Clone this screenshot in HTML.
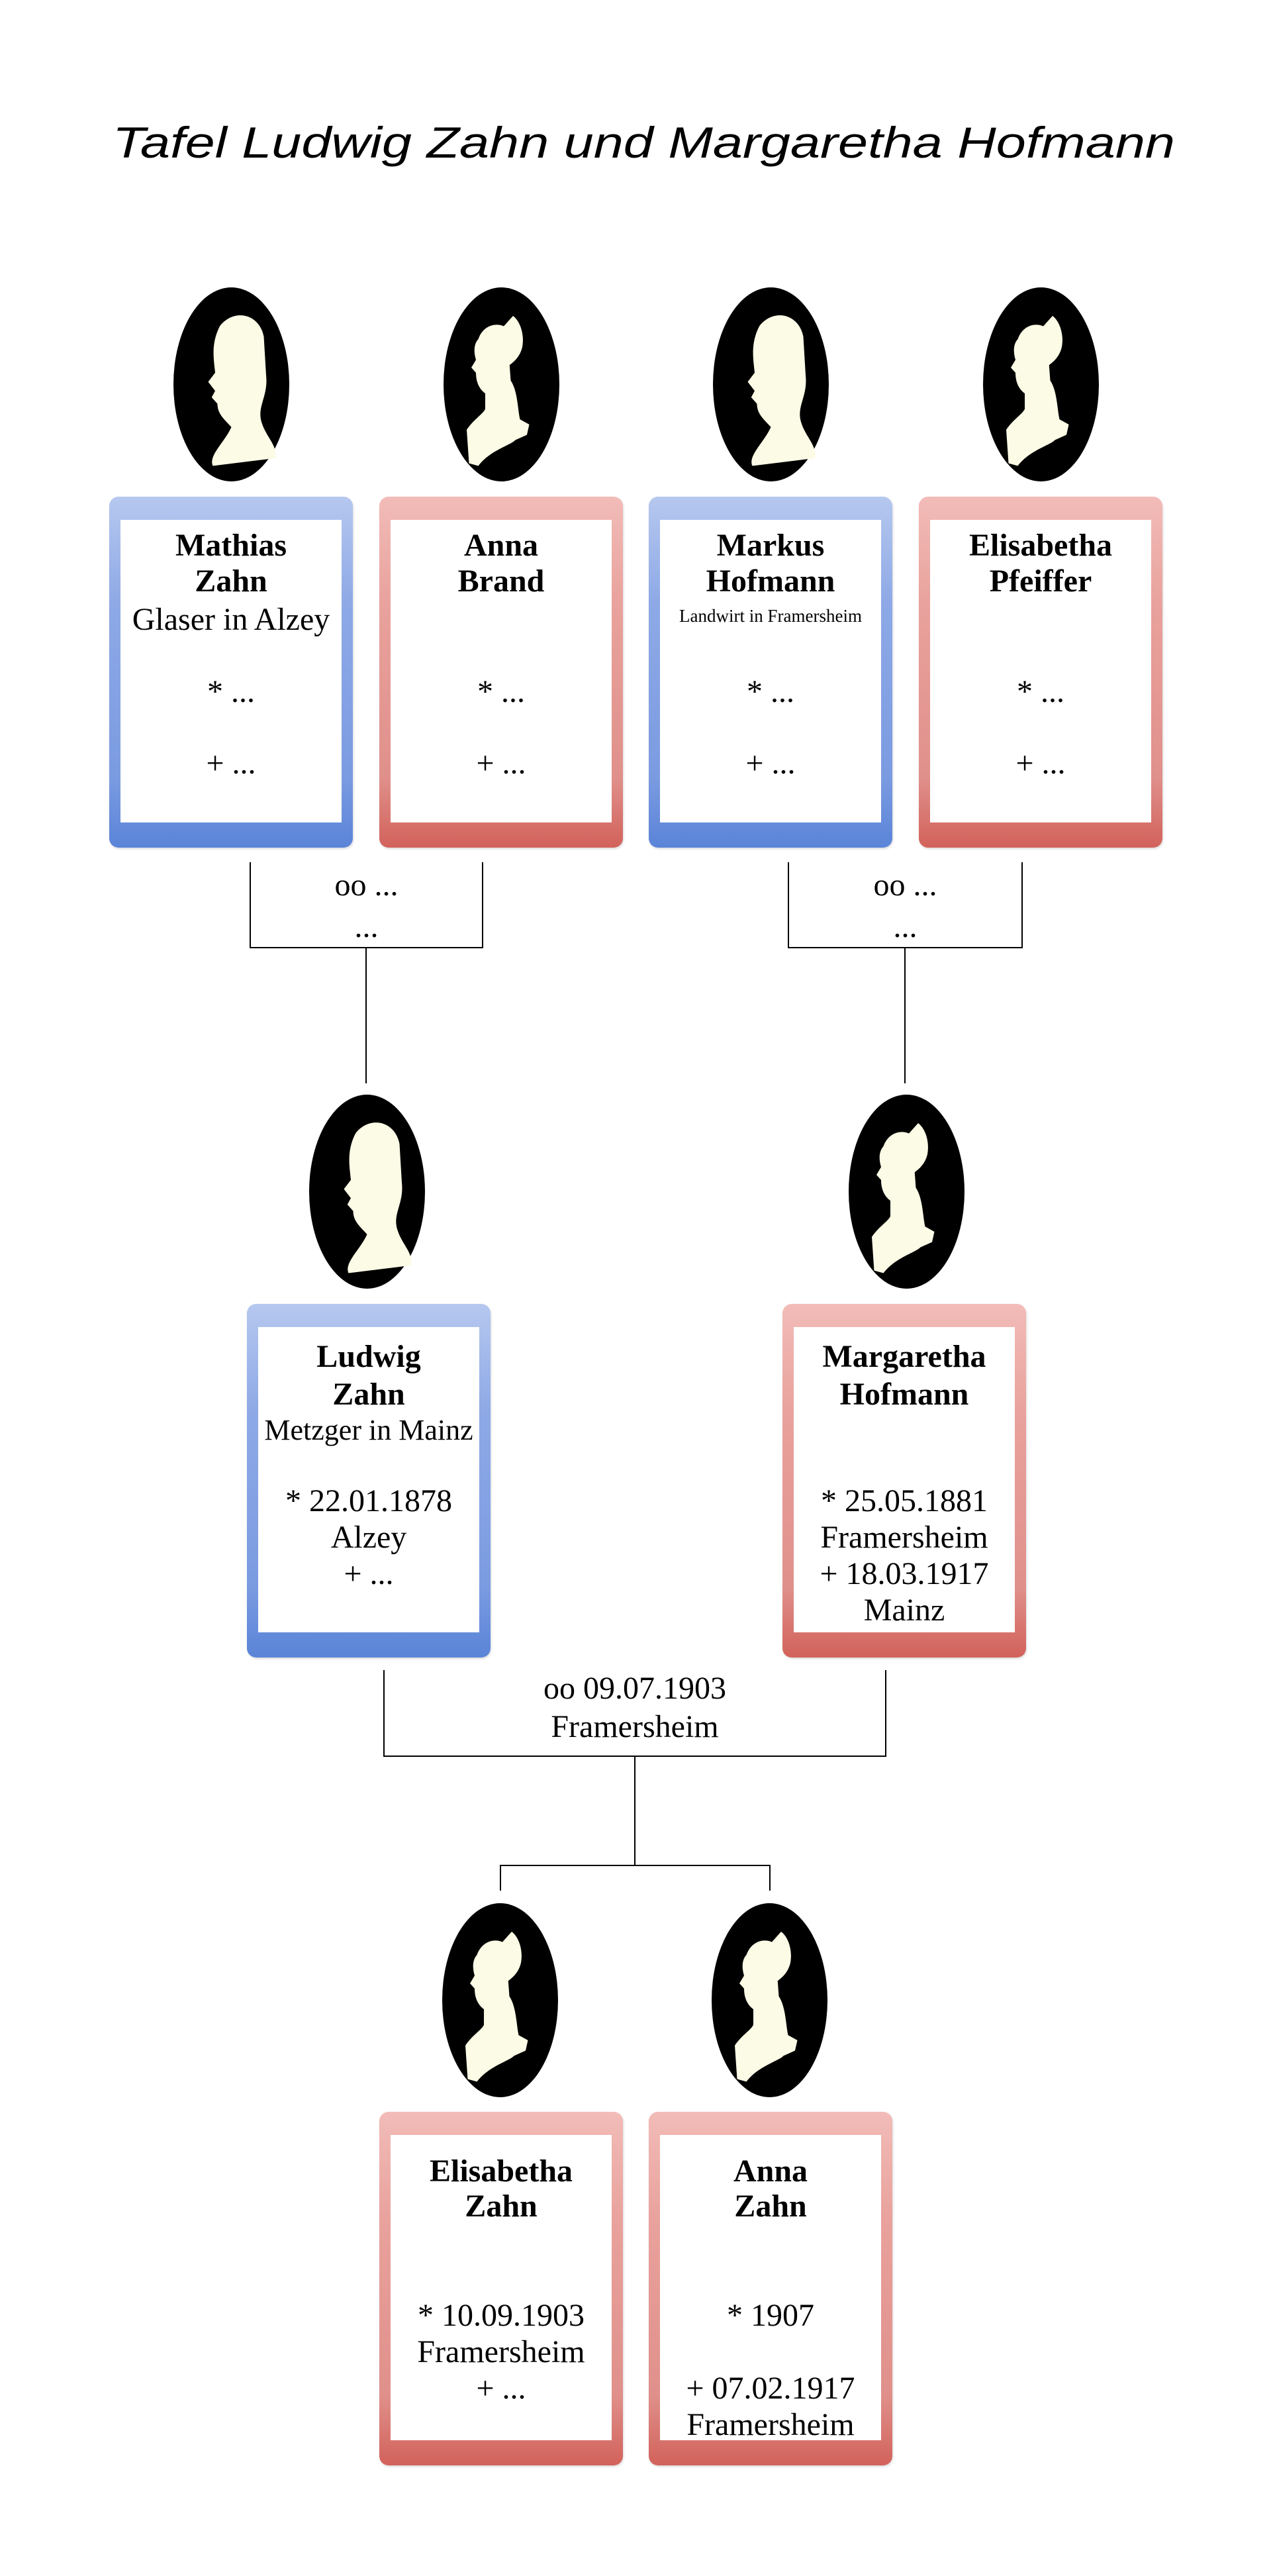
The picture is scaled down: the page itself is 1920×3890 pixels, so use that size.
<!DOCTYPE html>
<html><head><meta charset="utf-8">
<style>
body{margin:0;width:1920px;height:3890px;background:#fff;position:relative;overflow:hidden;font-family:"Liberation Serif",serif;color:#000}
.box{position:absolute;border-radius:14px}
.blue{background:linear-gradient(to bottom,#b6c8ef 0%,#8ea9e6 30%,#7b9be1 80%,#5a84d8 100%);box-shadow:1px 2px 3px rgba(0,0,0,.15)}
.red{background:linear-gradient(to bottom,#f2bcb8 0%,#e9a29d 30%,#e0908b 80%,#d2625b 100%);box-shadow:1px 2px 3px rgba(0,0,0,.15)}
.box .in{position:absolute;left:17px;right:17px;top:35px;bottom:38px;background:#fff}
.t{position:absolute;text-align:center;font-size:48px;line-height:56px;white-space:nowrap}
.b{font-weight:bold}
.l{position:absolute;background:#000}
.ov{position:absolute}
</style></head><body>

<svg style="position:absolute;left:0;top:0" width="1920" height="300">
<text x="170" y="238" textLength="1605" lengthAdjust="spacingAndGlyphs" font-family="'Liberation Sans',sans-serif" font-style="italic" font-size="66">Tafel Ludwig Zahn und Margaretha Hofmann</text>
</svg>

<svg width="0" height="0" style="position:absolute">
<defs>
<g id="man"><ellipse cx="50" cy="75" rx="50" ry="75" fill="#000"/><path d="M40 30 C52 16 74 20 78 38 L80 68 C82 84 72 92 76 104 C80 116 90 122 88 132 L34 138 C30 130 44 120 50 108 C44 102 38 98 38 90 L33 85 L36 80 L30 73 L36 66 C35 56 32 44 40 30Z" fill="#fbfbe6"/></g>
<g id="wom"><ellipse cx="50" cy="75" rx="50" ry="75" fill="#000"/><path d="M30 40 C34 30 44 27 52 30 L60 22 C66 26 70 36 68 46 C66 54 60 58 57 60 L58 72 C64 80 64 94 66 102 L74 106 L72 114 L62 118 C58 122 40 126 30 138 L22 136 L20 110 C26 102 34 98 36 94 L36 82 C30 78 28 72 28 66 L24 62 L28 56 C26 50 26 44 30 40Z" fill="#fbfbe6"/></g>
</defs></svg>

<svg class="ov" style="left:262px;top:434px" width="175" height="293" viewBox="0 0 100 150" preserveAspectRatio="none"><use href="#man"/></svg>
<svg class="ov" style="left:670px;top:434px" width="175" height="293" viewBox="0 0 100 150" preserveAspectRatio="none"><use href="#wom"/></svg>
<svg class="ov" style="left:1077px;top:434px" width="175" height="293" viewBox="0 0 100 150" preserveAspectRatio="none"><use href="#man"/></svg>
<svg class="ov" style="left:1485px;top:434px" width="175" height="293" viewBox="0 0 100 150" preserveAspectRatio="none"><use href="#wom"/></svg>
<svg class="ov" style="left:467px;top:1653px" width="175" height="293" viewBox="0 0 100 150" preserveAspectRatio="none"><use href="#man"/></svg>
<svg class="ov" style="left:1282px;top:1653px" width="175" height="293" viewBox="0 0 100 150" preserveAspectRatio="none"><use href="#wom"/></svg>
<svg class="ov" style="left:668px;top:2874px" width="175" height="293" viewBox="0 0 100 150" preserveAspectRatio="none"><use href="#wom"/></svg>
<svg class="ov" style="left:1075px;top:2874px" width="175" height="293" viewBox="0 0 100 150" preserveAspectRatio="none"><use href="#wom"/></svg>

<div class="box blue" style="left:165px;top:750px;width:368px;height:530px"><div class="in"></div></div>
<div class="box red" style="left:573px;top:750px;width:368px;height:530px"><div class="in"></div></div>
<div class="box blue" style="left:980px;top:750px;width:368px;height:530px"><div class="in"></div></div>
<div class="box red" style="left:1388px;top:750px;width:368px;height:530px"><div class="in"></div></div>
<div class="box blue" style="left:373px;top:1969px;width:368px;height:534px"><div class="in"></div></div>
<div class="box red" style="left:1182px;top:1969px;width:368px;height:534px"><div class="in"></div></div>
<div class="box red" style="left:573px;top:3189px;width:368px;height:534px"><div class="in"></div></div>
<div class="box red" style="left:980px;top:3189px;width:368px;height:534px"><div class="in"></div></div>

<div class="t b" style="left:165px;width:368px;top:796px">Mathias</div>
<div class="t b" style="left:165px;width:368px;top:850px">Zahn</div>
<div class="t" style="left:165px;width:368px;top:908px">Glaser in Alzey</div>
<div class="t" style="left:165px;width:368px;top:1017px">* ...</div>
<div class="t" style="left:165px;width:368px;top:1125px">+ ...</div>

<div class="t b" style="left:573px;width:368px;top:796px">Anna</div>
<div class="t b" style="left:573px;width:368px;top:850px">Brand</div>
<div class="t" style="left:573px;width:368px;top:1017px">* ...</div>
<div class="t" style="left:573px;width:368px;top:1125px">+ ...</div>

<div class="t b" style="left:980px;width:368px;top:796px">Markus</div>
<div class="t b" style="left:980px;width:368px;top:850px">Hofmann</div>
<div class="t" style="left:980px;width:368px;top:914px;font-size:27px;line-height:32px">Landwirt in Framersheim</div>
<div class="t" style="left:980px;width:368px;top:1017px">* ...</div>
<div class="t" style="left:980px;width:368px;top:1125px">+ ...</div>

<div class="t b" style="left:1388px;width:368px;top:796px">Elisabetha</div>
<div class="t b" style="left:1388px;width:368px;top:850px">Pfeiffer</div>
<div class="t" style="left:1388px;width:368px;top:1017px">* ...</div>
<div class="t" style="left:1388px;width:368px;top:1125px">+ ...</div>

<div class="t b" style="left:373px;width:368px;top:2021px">Ludwig</div>
<div class="t b" style="left:373px;width:368px;top:2078px">Zahn</div>
<div class="t" style="left:373px;width:368px;top:2132px;font-size:44px">Metzger in Mainz</div>
<div class="t" style="left:373px;width:368px;top:2239px">* 22.01.1878</div>
<div class="t" style="left:373px;width:368px;top:2294px">Alzey</div>
<div class="t" style="left:373px;width:368px;top:2349px">+ ...</div>

<div class="t b" style="left:1182px;width:368px;top:2021px">Margaretha</div>
<div class="t b" style="left:1182px;width:368px;top:2078px">Hofmann</div>
<div class="t" style="left:1182px;width:368px;top:2239px">* 25.05.1881</div>
<div class="t" style="left:1182px;width:368px;top:2294px">Framersheim</div>
<div class="t" style="left:1182px;width:368px;top:2349px">+ 18.03.1917</div>
<div class="t" style="left:1182px;width:368px;top:2404px">Mainz</div>

<div class="t b" style="left:573px;width:368px;top:3251px">Elisabetha</div>
<div class="t b" style="left:573px;width:368px;top:3304px">Zahn</div>
<div class="t" style="left:573px;width:368px;top:3469px">* 10.09.1903</div>
<div class="t" style="left:573px;width:368px;top:3524px">Framersheim</div>
<div class="t" style="left:573px;width:368px;top:3579px">+ ...</div>

<div class="t b" style="left:980px;width:368px;top:3251px">Anna</div>
<div class="t b" style="left:980px;width:368px;top:3304px">Zahn</div>
<div class="t" style="left:980px;width:368px;top:3469px">* 1907</div>
<div class="t" style="left:980px;width:368px;top:3579px">+ 07.02.1917</div>
<div class="t" style="left:980px;width:368px;top:3634px">Framersheim</div>

<div class="l" style="left:377px;top:1302px;width:2px;height:130px"></div>
<div class="l" style="left:728px;top:1302px;width:2px;height:130px"></div>
<div class="l" style="left:377px;top:1430px;width:353px;height:2px"></div>
<div class="l" style="left:552px;top:1431px;width:2px;height:205px"></div>
<div class="t" style="left:377px;width:353px;top:1309px">oo ...</div>
<div class="t" style="left:377px;width:353px;top:1372px">...</div>

<div class="l" style="left:1190px;top:1302px;width:2px;height:130px"></div>
<div class="l" style="left:1543px;top:1302px;width:2px;height:130px"></div>
<div class="l" style="left:1190px;top:1430px;width:355px;height:2px"></div>
<div class="l" style="left:1366px;top:1431px;width:2px;height:205px"></div>
<div class="t" style="left:1190px;width:355px;top:1309px">oo ...</div>
<div class="t" style="left:1190px;width:355px;top:1372px">...</div>

<div class="l" style="left:579px;top:2522px;width:2px;height:131px"></div>
<div class="l" style="left:1337px;top:2522px;width:2px;height:131px"></div>
<div class="l" style="left:579px;top:2651px;width:760px;height:2px"></div>
<div class="l" style="left:958px;top:2652px;width:2px;height:166px"></div>
<div class="l" style="left:755px;top:2816px;width:409px;height:2px"></div>
<div class="l" style="left:755px;top:2816px;width:2px;height:39px"></div>
<div class="l" style="left:1162px;top:2816px;width:2px;height:39px"></div>
<div class="t" style="left:759px;width:400px;top:2522px">oo 09.07.1903</div>
<div class="t" style="left:759px;width:400px;top:2580px">Framersheim</div>

</body></html>
